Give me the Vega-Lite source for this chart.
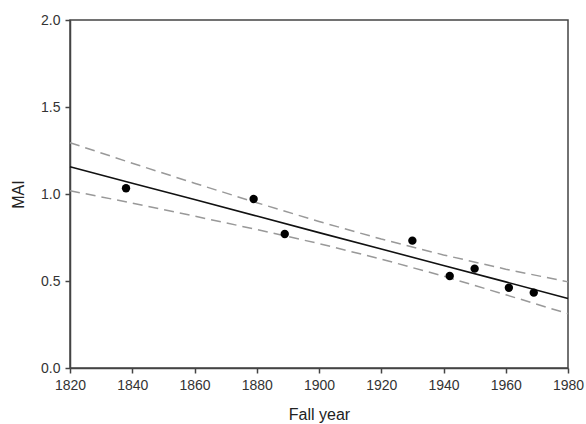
{
  "$schema": "https://vega.github.io/schema/vega-lite/v6.json",
  "width": 498,
  "height": 348,
  "autosize": "none",
  "padding": {"left": 70, "top": 20, "right": 18, "bottom": 56},
  "background": "white",
  "config": {
    "view": {"stroke": "#444", "strokeWidth": 1.5},
    "axis": {
      "labelFont": "Liberation Sans",
      "titleFont": "Liberation Sans",
      "labelFontSize": 14,
      "titleFontSize": 16,
      "titleFontWeight": "normal",
      "labelColor": "#333",
      "titleColor": "#222",
      "domainColor": "#444",
      "domainWidth": 1.5,
      "tickColor": "#444",
      "tickWidth": 1.5,
      "tickSize": 5,
      "labelFlush": false,
      "labelOverlap": false,
      "grid": false
    }
  },
  "datasets": {
    "points": [
      {"year": 1838, "mai": 1.033},
      {"year": 1879, "mai": 0.971},
      {"year": 1889, "mai": 0.770},
      {"year": 1930, "mai": 0.732},
      {"year": 1942, "mai": 0.529},
      {"year": 1950, "mai": 0.571},
      {"year": 1961, "mai": 0.461},
      {"year": 1969, "mai": 0.433}
    ],
    "lines": [
      {"year": 1820, "fit": 1.157, "upper": 1.295, "lower": 1.019},
      {"year": 1840, "fit": 1.062, "upper": 1.177, "lower": 0.948},
      {"year": 1860, "fit": 0.968, "upper": 1.062, "lower": 0.873},
      {"year": 1880, "fit": 0.873, "upper": 0.950, "lower": 0.796},
      {"year": 1900, "fit": 0.778, "upper": 0.842, "lower": 0.715},
      {"year": 1920, "fit": 0.684, "upper": 0.741, "lower": 0.626},
      {"year": 1940, "fit": 0.589, "upper": 0.650, "lower": 0.528},
      {"year": 1960, "fit": 0.495, "upper": 0.568, "lower": 0.421},
      {"year": 1980, "fit": 0.400, "upper": 0.495, "lower": 0.312}
    ]
  },
  "layer": [
    {
      "data": {"name": "lines"},
      "mark": {"type": "line", "color": "#999", "strokeWidth": 1.5, "strokeDash": [10, 6]},
      "encoding": {
        "x": {"field": "year", "type": "quantitative", "scale": {"domain": [1820, 1980], "nice": false, "zero": false},
              "axis": {"values": [1820, 1840, 1860, 1880, 1900, 1920, 1940, 1960, 1980], "format": "d", "title": "Fall year", "titlePadding": 14, "labelPadding": 5}},
        "y": {"field": "upper", "type": "quantitative", "scale": {"domain": [0, 2], "nice": false},
              "axis": {"values": [0, 0.5, 1, 1.5, 2], "format": ".1f", "title": "MAI", "titlePadding": 14, "labelPadding": 5}}
      }
    },
    {
      "data": {"name": "lines"},
      "mark": {"type": "line", "color": "#999", "strokeWidth": 1.5, "strokeDash": [10, 6]},
      "encoding": {
        "x": {"field": "year", "type": "quantitative"},
        "y": {"field": "lower", "type": "quantitative"}
      }
    },
    {
      "data": {"name": "lines"},
      "mark": {"type": "line", "color": "#111", "strokeWidth": 1.6},
      "encoding": {
        "x": {"field": "year", "type": "quantitative"},
        "y": {"field": "fit", "type": "quantitative"}
      }
    },
    {
      "data": {"name": "points"},
      "mark": {"type": "point", "filled": true, "shape": "circle", "color": "black", "opacity": 1, "size": 70},
      "encoding": {
        "x": {"field": "year", "type": "quantitative"},
        "y": {"field": "mai", "type": "quantitative"}
      }
    }
  ]
}
